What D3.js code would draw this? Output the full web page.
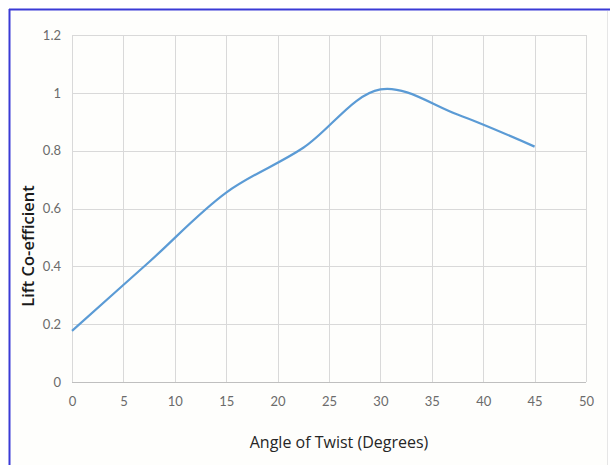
<!DOCTYPE html>
<html><head><meta charset="utf-8">
<script src="https://cdn.jsdelivr.net/npm/d3@7"></script>
<style>html,body{margin:0;padding:0;background:#fff;}svg{display:block;}</style>
</head><body>
<svg id="chart" width="610" height="465"></svg>
<script>
const angles = [0, 7.5, 15, 22.5, 30, 37.5, 45];
const liftCoefficient = [0.177, 0.415, 0.655, 0.81, 1.012, 0.925, 0.814];
const xTicks = [0, 5, 10, 15, 20, 25, 30, 35, 40, 45, 50];
const yTicks = [0, 0.2, 0.4, 0.6, 0.8, 1, 1.2];
const xTitle = "Angle of Twist (Degrees)";
const yTitle = "Lift Co-efficient";

const svg = d3.select("#chart");
svg.append("rect").attr("x", 0).attr("y", 0).attr("width", 610).attr("height", 465).attr("fill", "#fff");
svg.append("rect").attr("x", 9).attr("y", 9).attr("width", 598).attr("height", 470)
  .attr("fill", "#fefefc").attr("stroke", "none");
svg.append("line").attr("x1", 9).attr("x2", 610).attr("y1", 9.5).attr("y2", 9.5).attr("stroke", "#3a3ad6").attr("stroke-width", 2);
svg.append("line").attr("x1", 9.5).attr("x2", 9.5).attr("y1", 9).attr("y2", 465).attr("stroke", "#3a3ad6").attr("stroke-width", 2);
svg.append("line").attr("x1", 607.5).attr("x2", 607.5).attr("y1", 11).attr("y2", 465).attr("stroke", "#e6e6e6").attr("stroke-width", 1);

const x = d3.scaleLinear().domain([0, 50]).range([72, 586]);
const y = d3.scaleLinear().domain([0, 1.2]).range([382, 35]);

const g = svg.append("g");
g.selectAll(".vg").data(xTicks).enter().append("line")
  .attr("x1", d => Math.round(x(d)) + 0.5).attr("x2", d => Math.round(x(d)) + 0.5)
  .attr("y1", y(1.2)).attr("y2", y(0)).attr("stroke", "#d9d9d9").attr("stroke-width", 1);
g.selectAll(".hg").data(yTicks).enter().append("line")
  .attr("x1", x(0)).attr("x2", x(50))
  .attr("y1", d => Math.round(y(d)) + 0.5).attr("y2", d => Math.round(y(d)) + 0.5)
  .attr("stroke", d => d === 0 ? "#bfbfbf" : "#d9d9d9").attr("stroke-width", 1);

const xAxis = d3.axisBottom(x).tickValues(xTicks).tickSize(0).tickPadding(15).tickFormat(d3.format("d"));
const yAxis = d3.axisLeft(y).tickValues(yTicks).tickSize(0).tickPadding(11).tickFormat(d => String(d));
const font = "Lato, 'Open Sans', sans-serif";
const xa = svg.append("g").attr("transform", "translate(0,382)").call(xAxis);
const ya = svg.append("g").attr("transform", "translate(72,0)").call(yAxis);
[xa, ya].forEach(a => {
  a.select(".domain").remove();
  a.selectAll("text").attr("fill", "#6b6b6b").style("font-family", font).style("font-size", "13px");
});

const line = d3.line().x((d, i) => x(angles[i])).y(d => y(d)).curve(d3.curveCatmullRom.alpha(0.5));
svg.append("path").datum(liftCoefficient).attr("d", line)
  .attr("fill", "none").attr("stroke", "#5b9bd5").attr("stroke-width", 2.2);

svg.append("text").attr("x", 339).attr("y", 448).attr("text-anchor", "middle")
  .style("font-family", "'Open Sans', sans-serif").style("font-size", "16px").attr("fill", "#262626").text(xTitle);
svg.append("text").attr("transform", "translate(34,246) rotate(-90)").attr("text-anchor", "middle")
  .style("font-family", "'Open Sans', sans-serif").style("font-size", "16.5px").style("font-weight", "600").attr("fill", "#1a1a1a").text(yTitle);
</script>
</body></html>
